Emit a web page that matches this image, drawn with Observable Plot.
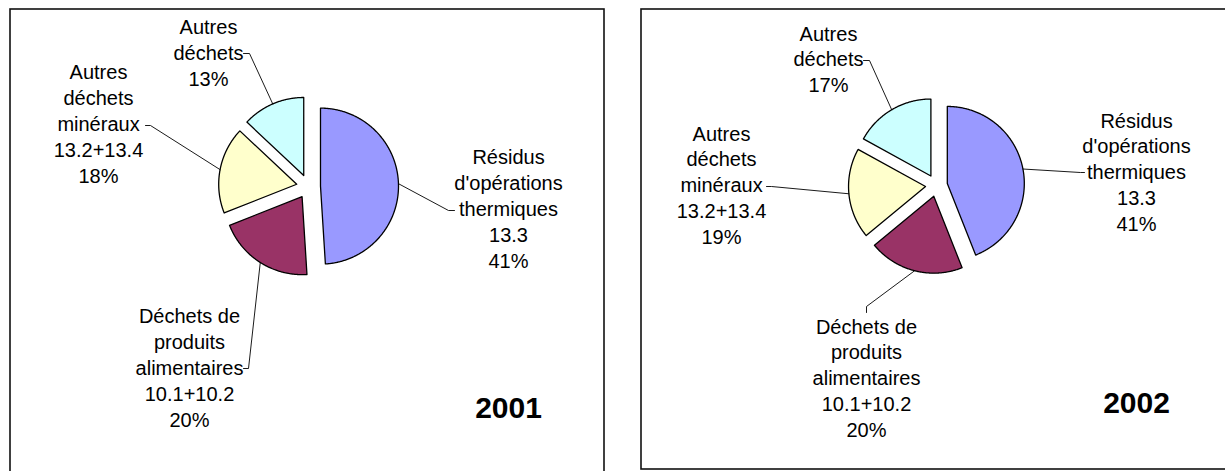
<!DOCTYPE html>
<html><head><meta charset="utf-8">
<script src="https://cdn.jsdelivr.net/npm/d3@7"></script>
<script src="https://cdn.jsdelivr.net/npm/@observablehq/plot@0.6"></script>
<style>html,body{margin:0;padding:0;background:#fff;} svg{display:block;}</style>
</head><body><div id="chart"></div>
<script>
// ---- data ----
const years = ["2001", "2002"];
const categories = [
  "Résidus d'opérations thermiques 13.3",
  "Déchets de produits alimentaires 10.1+10.2",
  "Autres déchets minéraux 13.2+13.4",
  "Autres déchets"
];
const labelLines = [
  ["Résidus", "d'opérations", "thermiques", "13.3"],
  ["Déchets de", "produits", "alimentaires", "10.1+10.2"],
  ["Autres", "déchets", "minéraux", "13.2+13.4"],
  ["Autres", "déchets"]
];
const colors = ["#9999FF", "#993366", "#FFFFCC", "#CCFFFF"];
const values2001 = [49, 20, 18, 13];
const values2002 = [44, 20, 19, 17];
const pctLabels2001 = ["41%", "20%", "18%", "13%"];
const pctLabels2002 = ["41%", "20%", "19%", "17%"];

// ---- layout ----
const W = 1225, H = 471;
const panels = [
  {year: years[0], values: values2001, pcts: pctLabels2001, box: [10, 604, 9, 495],
   cx: 308, cy: 186, r: 78, explode: 12, yearPos: [508, 417], step: 26,
   labels: [
     {x: 508, y: 163, tick: [[454, 210], [448, 210]]},
     {x: 189, y: 322, tick: [[243, 368], [248, 368]]},
     {x: 98,  y: 78,  tick: [[145, 125], [150, 125]]},
     {x: 208, y: 33,  tick: [[243, 53], [249, 53]]}
   ]},
  {year: years[1], values: values2002, pcts: pctLabels2002, box: [641, 1245, 9, 469],
   cx: 936, cy: 185, r: 77, explode: 11, yearPos: [1136, 412], step: 25.8,
   labels: [
     {x: 1136, y: 127, tick: [[1084, 172], [1080, 172]]},
     {x: 866,  y: 333, tick: [[866, 312], [866, 306]]},
     {x: 721,  y: 140, tick: [[766, 186], [771, 186]]},
     {x: 828,  y: 40,  tick: [[863, 60], [869, 60]]}
   ]}
];

const slicePts = [], leaderPts = [], textLines = [], boxes = [], yearTexts = [];
panels.forEach((p, pi) => {
  boxes.push({x1: p.box[0], x2: p.box[1], y1: p.box[2], y2: p.box[3]});
  yearTexts.push({x: p.yearPos[0], y: p.yearPos[1], text: p.year});
  const arcs = d3.pie().sort(null).value(d => d)(p.values);
  arcs.forEach((a, i) => {
    const id = pi + "-" + i;
    const mid = (a.startAngle + a.endAngle) / 2;
    const ox = p.cx + p.explode * Math.sin(mid);
    const oy = p.cy - p.explode * Math.cos(mid);
    slicePts.push({id, category: categories[i], x: ox, y: oy});
    const n = Math.max(2, Math.ceil((a.endAngle - a.startAngle) / (Math.PI / 360)));
    for (let k = 0; k <= n; k++) {
      const t = a.startAngle + (a.endAngle - a.startAngle) * k / n;
      slicePts.push({id, category: categories[i], x: ox + p.r * Math.sin(t), y: oy - p.r * Math.cos(t)});
    }
    // leader line
    const lab = p.labels[i];
    leaderPts.push({id, x: lab.tick[0][0], y: lab.tick[0][1]});
    leaderPts.push({id, x: lab.tick[1][0], y: lab.tick[1][1]});
    leaderPts.push({id, x: ox + p.r * Math.sin(mid), y: oy - p.r * Math.cos(mid)});
    // label text lines
    labelLines[i].concat([p.pcts[i]]).forEach((t, j) => {
      textLines.push({x: lab.x, y: lab.y + j * p.step, text: t});
    });
  });
});

const chart = Plot.plot({
  width: W, height: H, margin: 0,
  x: {domain: [0, W], range: [0, W], axis: null},
  y: {domain: [0, H], range: [0, H], axis: null},
  color: {domain: categories, range: colors},
  style: {fontFamily: "'Liberation Sans', Arial, sans-serif", background: "#fff"},
  marks: [
    Plot.rect(boxes, {x1: "x1", x2: "x2", y1: "y1", y2: "y2", fill: "none", stroke: "#111", strokeWidth: 1.6}),
    Plot.line(slicePts, {x: "x", y: "y", z: "id", fill: "category", stroke: "#000", strokeWidth: 1.3, curve: "linear-closed"}),
    Plot.line(leaderPts, {x: "x", y: "y", z: "id", stroke: "#000", strokeWidth: 0.9}),
    Plot.text(textLines, {x: "x", y: "y", text: "text", fontSize: 20, lineAnchor: "bottom", fill: "#000"}),
    Plot.text(yearTexts, {x: "x", y: "y", text: "text", fontSize: 30, fontWeight: "bold", lineAnchor: "bottom", fill: "#000"})
  ]
});
document.getElementById("chart").appendChild(chart);
</script>
</body></html>
